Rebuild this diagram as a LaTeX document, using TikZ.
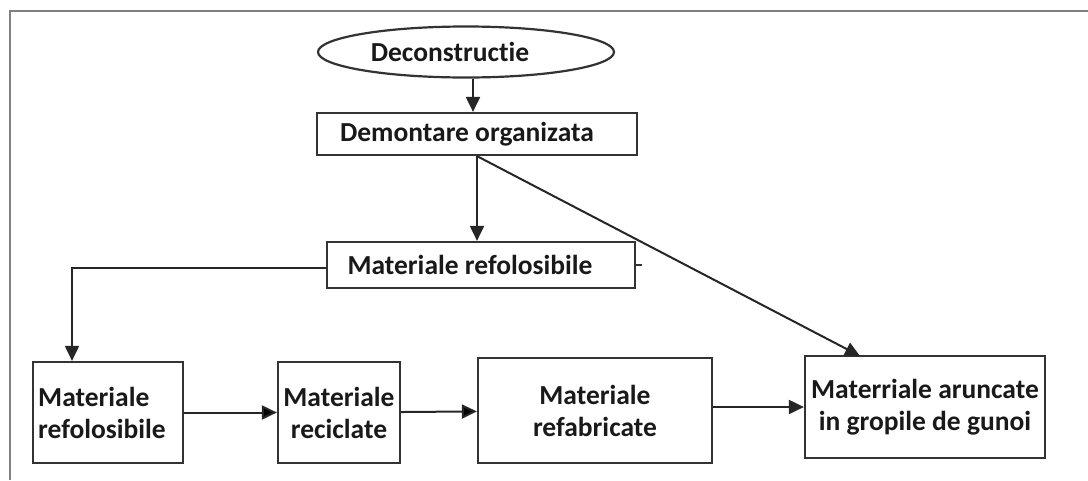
\documentclass[tikz,border=0pt]{standalone}
\usepackage{fontspec}
\setmainfont{Carlito}[Ligatures=NoCommon]
\usepackage{tikz}
\usetikzlibrary{positioning, calc, shapes.geometric, arrows.meta}

\begin{document}
\begin{tikzpicture}[x=1pt, y=-1pt,
		box/.style={draw=black!80, line width=2.2pt, inner sep=0pt, font=\fontsize{27.5}{32}\selectfont\bfseries, text=black!90},
		arr/.style={draw=black!85, line width=2pt, -{Triangle[length=15pt, width=14pt]}}]
	\useasboundingbox (0, 0) rectangle (1088, 480);
	% frame
	\draw[black!50, line width=1.6pt] (10, 480) -- (10, 11) -- (1088, 11);

	\node[box, ellipse, minimum width=296pt, minimum height=51pt] (deconstructie) at (466, 52) {Deconstructie\hspace*{32pt}};
	\node[box, minimum width=320pt, minimum height=42pt] (demontare) at (477, 134) {Demontare organizata\hspace*{20pt}};
	\node[box, minimum width=308pt, minimum height=46pt] (refolosibile) at (481, 265) {Materiale refolosibile\hspace*{22pt}};

	\node[box, minimum width=150pt, minimum height=101pt, align=left] (matrefol) at (108, 412.5) {Materiale\\refolosibile\hspace*{12pt}};
	\node[box, minimum width=122pt, minimum height=101pt, align=center] (reciclate) at (339, 412.5) {Materiale\\reciclate};
	\node[box, minimum width=234pt, minimum height=105pt, align=center] (refabricate) at (595, 410.5) {Materiale\\refabricate};
	\node[box, minimum width=240pt, minimum height=102pt, align=center] (aruncate) at (925, 407) {Materriale aruncate\\in gropile de gunoi};

	\coordinate (corner) at (72, 268);
	\coordinate (groapa) at (860, 356);

	\draw[arr] ($(deconstructie.south)+(7, 0)$) -- ($(deconstructie.south |- demontare.north)+(7, 0)$);
	\draw[arr] (demontare.south) -- (demontare.south |- refolosibile.north);
	\draw[arr] (demontare.south) -- (groapa);
	\draw[arr] (refolosibile.west |- corner) -- (corner) -- (corner |- matrefol.north);
	\draw[black!80, line width=1.8pt] (refolosibile.east) -- ++(6, 0);

	\draw[arr] (matrefol) edge (reciclate);
	\draw[arr] (reciclate) edge (refabricate);
	\draw[arr] (refabricate.east |- aruncate.west) -- (aruncate.west);
\end{tikzpicture}
\end{document}
